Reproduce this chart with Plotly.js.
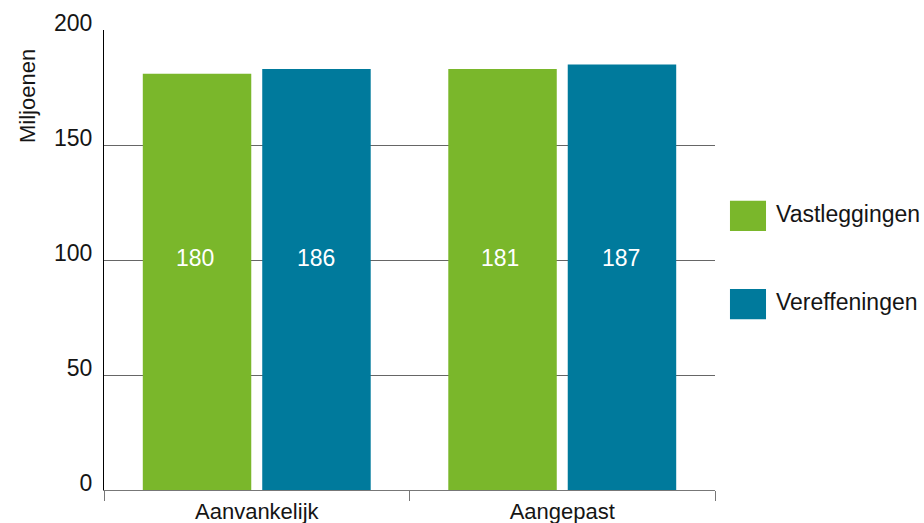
<!DOCTYPE html>
<html>
<head>
<meta charset="utf-8">
<script src="https://cdn.plot.ly/plotly-3.0.1.min.js"></script>
<style>html,body{margin:0;padding:0;background:#fff;}#chart{width:924px;height:523px;}</style>
</head>
<body>
<div id="chart"></div>
<script>
// Data
const categories = ["Aanvankelijk", "Aangepast"];
const seriesNames = ["Vastleggingen", "Vereffeningen"];
const vastleggingen = [181, 183];
const vereffeningen = [183, 185];
const vastleggingenLabels = ["180", "181"];
const vereffeningenLabels = ["186", "187"];
const yTicks = [0, 50, 100, 150, 200];
const yTitle = "Miljoenen";

const green = "#7AB72B";
const blue = "#007A9C";
const font = "Liberation Sans, Arial, sans-serif";
const txt = "#151515";

const traces = [
  {type: "bar", name: seriesNames[0], x: categories, y: vastleggingen,
   marker: {color: green}, hoverinfo: "x+y"},
  {type: "bar", name: seriesNames[1], x: categories, y: vereffeningen,
   marker: {color: blue}, hoverinfo: "x+y"}
];

const annotations = [];
const labelSets = [vastleggingenLabels, vereffeningenLabels];
const shifts = [-62, 59];
labelSets.forEach((labels, s) => {
  labels.forEach((t, i) => {
    annotations.push({x: categories[i], y: 100, xref: "x", yref: "y", text: t,
      showarrow: false, xshift: shifts[s], yshift: 2, font: {family: font, size: 23, color: "#fff"}});
  });
});
annotations.push({x: -0.124, y: 0.857, xref: "paper", yref: "paper", text: yTitle,
  xanchor: "center", yanchor: "middle",
  textangle: -90, showarrow: false, font: {family: font, size: 22, color: txt}});

// Legend
const legendColors = [green, blue];
const legendY = [0.596, 0.404];
const shapes = [];
seriesNames.forEach((n, i) => {
  shapes.push({type: "rect", xref: "paper", yref: "paper", x0: 1.0245, x1: 1.0835,
    y0: legendY[i] - 0.033, y1: legendY[i] + 0.033, fillcolor: legendColors[i], line: {width: 0}});
  annotations.push({x: 1.096, y: legendY[i] + 0.004, xref: "paper", yref: "paper", text: n,
    xanchor: "left", yanchor: "middle", showarrow: false, font: {family: font, size: 23, color: txt}});
});

const layout = {
  width: 924, height: 523,
  margin: {l: 104, r: 209, t: 30, b: 33},
  paper_bgcolor: "#fff", plot_bgcolor: "#fff",
  barmode: "group", bargap: 0.218, bargroupgap: 0.092,
  showlegend: false,
  font: {family: font, size: 22, color: txt},
  xaxis: {
    type: "category", tickson: "boundaries", ticks: "outside", ticklen: 10,
    tickcolor: "#777", showline: true, linecolor: "#777", linewidth: 1,
    showgrid: false, ticklabelstandoff: 2,
    tickfont: {family: font, size: 22, color: txt}
  },
  yaxis: {
    range: [0, 200], tickvals: yTicks, ticktext: yTicks.map(String),
    showline: true, linecolor: "#000", linewidth: 1,
    showgrid: true, gridcolor: "#666", gridwidth: 1, zeroline: false,
    ticks: "", ticklabelstandoff: 6, ticklabelshift: -7,
    tickfont: {family: font, size: 23, color: txt}
  },
  annotations: annotations,
  shapes: shapes
};

Plotly.newPlot("chart", traces, layout, {displayModeBar: false, staticPlot: true});
</script>
</body>
</html>
